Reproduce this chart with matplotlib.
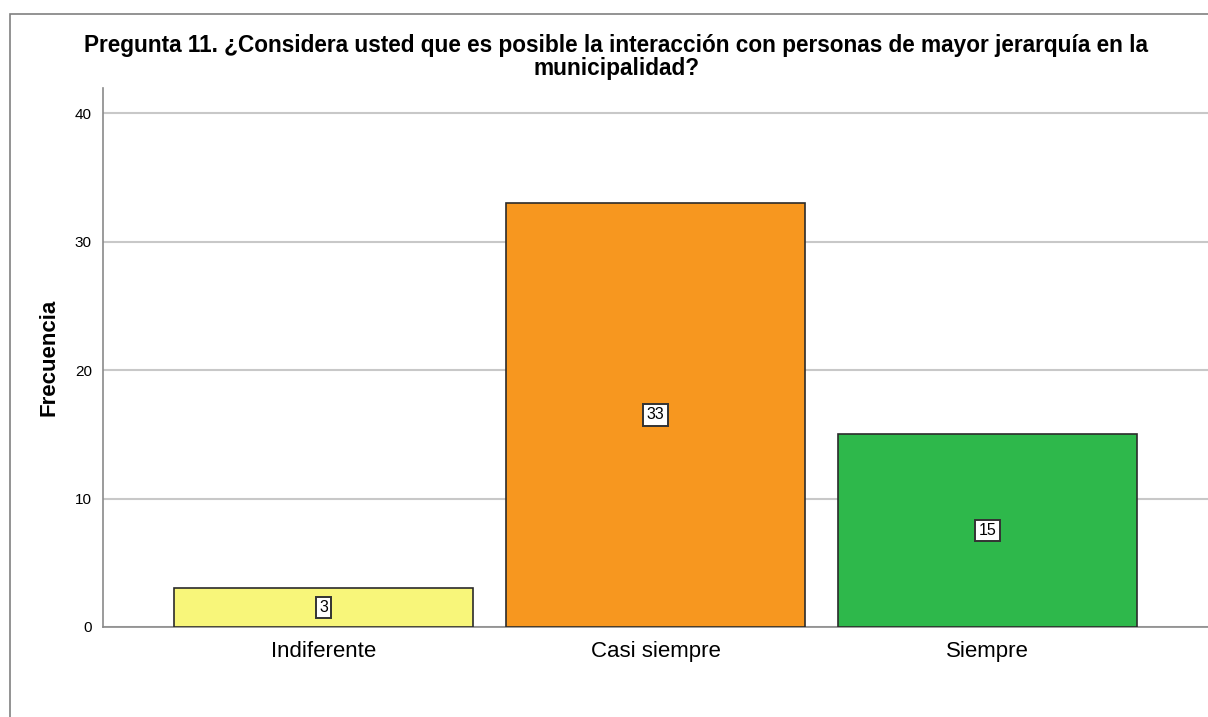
import matplotlib.pyplot as plt
from matplotlib.patches import Rectangle

categories = ["Indiferente", "Casi siempre", "Siempre"]
frequencies = [3, 33, 15]
bar_colors = ["#F8F67A", "#F7971F", "#2EB84B"]

plt.rcParams["font.family"] = ["Liberation Sans", "DejaVu Sans"]

fig = plt.figure(figsize=(12.08, 7.17), dpi=100)
ax = fig.add_axes([103 / 1208, 90 / 717, 1 - 103 / 1208, 539 / 717])

# SPSS-style frame around the chart
fig.patches.append(Rectangle((10 / 1208, -0.1), 1.2, 1 - 14 / 717 + 0.1,
                             transform=fig.transFigure, fill=False,
                             edgecolor="#808080", linewidth=1.2))

x = list(range(len(categories)))
ax.bar(x, frequencies, width=0.9, color=bar_colors, edgecolor="#2b2b2b",
       linewidth=1.2, zorder=3)

for xi, v in zip(x, frequencies):
    ax.text(xi, v / 2, str(v), ha="center", va="center", fontsize=11.5,
            bbox=dict(boxstyle="square,pad=0.2", fc="white", ec="#333333", lw=1.4),
            zorder=4)

ax.set_xlim(-0.664, 2.664)
ax.set_ylim(0, 41.95)
ax.set_yticks([0, 10, 20, 30, 40])
ax.set_xticks(x)
ax.set_xticklabels(categories, fontsize=16)
ax.tick_params(axis="both", length=0)
ax.tick_params(axis="y", labelsize=11, pad=8)
ax.tick_params(axis="x", pad=10)
ax.grid(axis="y", color="#c8c8c8", linewidth=1.5, zorder=0)

for side in ["top", "right"]:
    ax.spines[side].set_visible(False)
for side in ["left", "bottom"]:
    ax.spines[side].set_color("#8a8a8a")
    ax.spines[side].set_linewidth(1.2)

ax.set_ylabel("Frecuencia", fontsize=16, fontweight="bold", labelpad=11)

fig.text(616 / 1208, 1 - 57 / 717,
         "Pregunta 11. ¿Considera usted que es posible la interacción con personas de mayor jerarquía en la\nmunicipalidad?",
         ha="center", va="center", fontsize=16.3, fontweight="bold", linespacing=0.95)

fig.savefig("out.png", dpi=100)
